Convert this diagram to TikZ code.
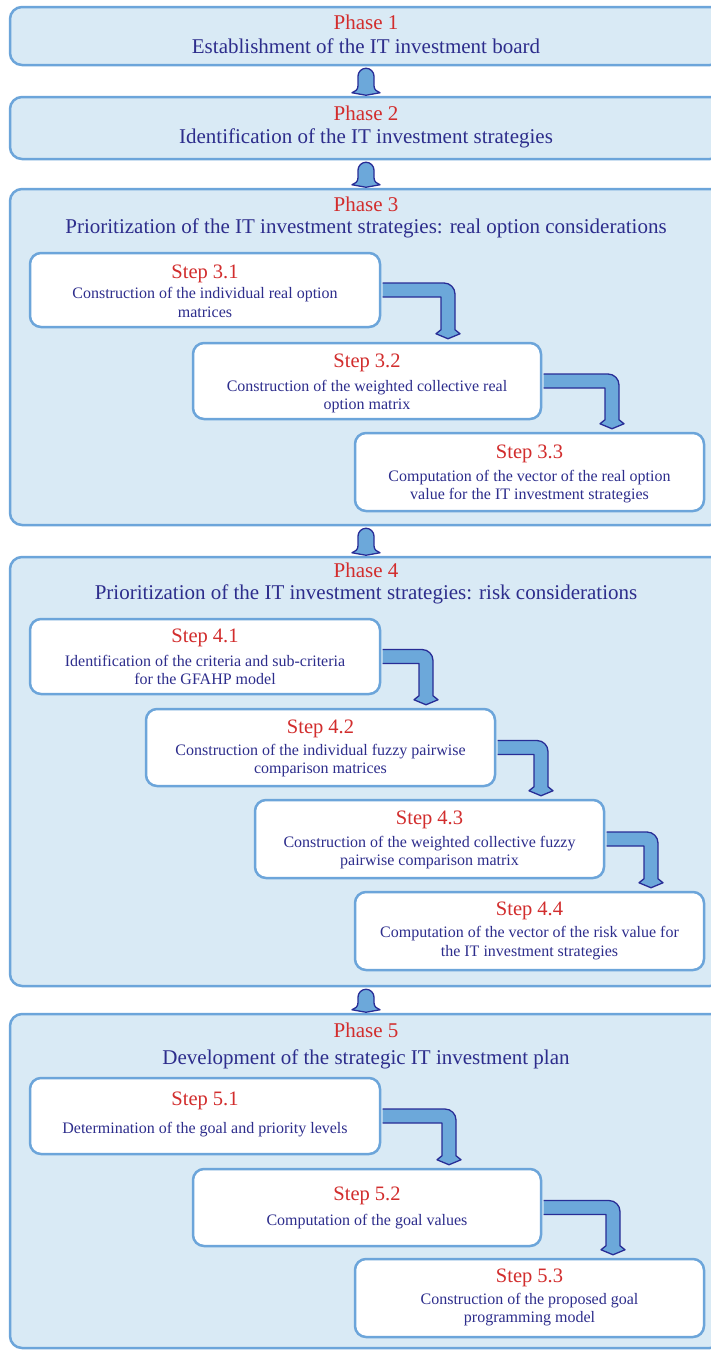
\documentclass[tikz,border=0pt]{standalone}
\usepackage{fontspec}
\setmainfont{Liberation Serif}
\usetikzlibrary{calc}
\definecolor{phasebg}{RGB}{217,234,245}
\definecolor{boxline}{RGB}{108,165,218}
\definecolor{redc}{RGB}{210,45,45}
\definecolor{bluec}{RGB}{45,45,140}
\definecolor{arrfill}{RGB}{108,168,218}
\definecolor{arrline}{RGB}{40,45,150}
\tikzset{
  phasebox/.style={draw=boxline, fill=phasebg, line width=2.5pt, rounded corners=12pt, inner sep=0pt},
  stepbox/.style={draw=boxline, fill=white, line width=2.5pt, rounded corners=11pt, inner sep=0pt},
  phtitle/.style={font=\fontsize{21}{24}\selectfont, text=redc, inner sep=0pt, anchor=base},
  phtext/.style={font=\fontsize{21}{24}\selectfont, text=bluec, inner sep=0pt, anchor=base},
  sttitle/.style={font=\fontsize{20.5}{24}\selectfont, text=redc, inner sep=0pt, anchor=base},
  stbody/.style={font=\fontsize{16}{18}\selectfont, text=bluec, inner sep=0pt, anchor=base},
  arrowsty/.style={fill=arrfill, draw=arrline, line width=1.3pt, line join=round}
}
\newcommand\boxat[6]{% style, name, x1, y1, x2, y2
  \node[#1, minimum width={(#5-#3)*1pt}, minimum height={(#6-#4)*1pt}] (#2) at ({(#3+#5)/2},{-(#4+#6)/2}) {};}
\newcommand\bentarrow[3]{% from, to, bend x
  \filldraw[arrowsty] let \p1=(#1.east), \p2=(#2.north) in
   (\x1+1.3pt,\y1+7pt) -- (#3pt-4pt,\y1+7pt) arc[start angle=90,end angle=0,radius=11pt]
   -- (#3pt+7pt,\y2+12pt) -- (#3pt+12pt,\y2+8pt) -- (#3pt,\y2+3pt) -- (#3pt-12pt,\y2+8pt)
   -- (#3pt-7pt,\y2+12pt) -- (#3pt-7pt,\y1-7pt) -- (\x1+1.3pt,\y1-7pt);}
\newcommand\phasearrow[2]{% from, to
  \filldraw[arrowsty] let \p1=(#1.south), \p2=(#2.north) in
   (\x1-8pt,\y1-10pt) arc[start angle=180,end angle=0,radius=8pt]
   -- (\x1+8pt,\y2+10pt) .. controls (\x1+8pt,\y2+6pt) and (\x1+11pt,\y2+4pt) .. (\x1+14pt,\y2+3pt)
   -- (\x1,\y2+0.5pt) -- (\x1-14pt,\y2+3pt) .. controls (\x1-11pt,\y2+4pt) and (\x1-8pt,\y2+6pt) .. (\x1-8pt,\y2+10pt)
   -- cycle;}
\begin{document}
\begin{tikzpicture}[x=1pt,y=1pt]
\useasboundingbox (0,0) rectangle (711,-1350);
\clip (0,0) rectangle (711,-1350);
\fill[white] (0,0) rectangle (711,-1350);
% phase boxes
\boxat{phasebox}{p1}{10}{7}{722}{65}
\boxat{phasebox}{p2}{10}{97}{722}{159}
\boxat{phasebox}{p3}{10}{189}{722}{525}
\boxat{phasebox}{p4}{10}{557}{722}{986}
\boxat{phasebox}{p5}{10}{1014}{722}{1348}
% phase texts
\node[phtitle] (p1a) at (366,-29) {Phase 1};
\node[phtext] (p1b) at (366,-53) {Establishment of the IT investment board};
\node[phtitle] (p2a) at (366,-120) {Phase 2};
\node[phtext] (p2b) at (366,-143) {Identification of the IT investment strategies};
\node[phtitle] (p3a) at (366,-211) {Phase 3};
\node[phtext] (p3b) at (366,-233) {Prioritization of the IT investment strategies: real option considerations};
\node[phtitle] (p4a) at (366,-577) {Phase 4};
\node[phtext] (p4b) at (366,-599) {Prioritization of the IT investment strategies: risk considerations};
\node[phtitle] (p5a) at (366,-1037) {Phase 5};
\node[phtext] (p5b) at (366,-1064) {Development of the strategic IT investment plan};
% step boxes
\boxat{stepbox}{s31}{30}{253}{380}{327}
\boxat{stepbox}{s32}{193}{343}{541}{419}
\boxat{stepbox}{s33}{355}{433}{704}{511}
\boxat{stepbox}{s41}{30}{619}{380}{694}
\boxat{stepbox}{s42}{146}{709}{495}{786}
\boxat{stepbox}{s43}{255}{800}{604}{878}
\boxat{stepbox}{s44}{355}{892}{704}{970}
\boxat{stepbox}{s51}{30}{1078}{380}{1154}
\boxat{stepbox}{s52}{193}{1169}{541}{1246}
\boxat{stepbox}{s53}{355}{1259}{704}{1337}
% step texts
\node[sttitle] (t31) at (205,-278) {Step 3.1};
\node[stbody] (b31a) at (205,-298) {Construction of the individual real option};
\node[stbody] (b31b) at (205,-317) {matrices};
\node[sttitle] (t32) at (367,-367) {Step 3.2};
\node[stbody] (b32a) at (367,-391) {Construction of the weighted collective real};
\node[stbody] (b32b) at (367,-409) {option matrix};
\node[sttitle] (t33) at (529.5,-458) {Step 3.3};
\node[stbody] (b33a) at (529.5,-481) {Computation of the vector of the real option};
\node[stbody] (b33b) at (529.5,-499) {value for the IT investment strategies};
\node[sttitle] (t41) at (205,-642) {Step 4.1};
\node[stbody] (b41a) at (205,-666) {Identification of the criteria and sub-criteria};
\node[stbody] (b41b) at (205,-684) {for the GFAHP model};
\node[sttitle] (t42) at (320.5,-733) {Step 4.2};
\node[stbody] (b42a) at (320.5,-755) {Construction of the individual fuzzy pairwise};
\node[stbody] (b42b) at (320.5,-773) {comparison matrices};
\node[sttitle] (t43) at (429.5,-824) {Step 4.3};
\node[stbody] (b43a) at (429.5,-847) {Construction of the weighted collective fuzzy};
\node[stbody] (b43b) at (429.5,-865) {pairwise comparison matrix};
\node[sttitle] (t44) at (529.5,-915) {Step 4.4};
\node[stbody] (b44a) at (529.5,-937) {Computation of the vector of the risk value for};
\node[stbody] (b44b) at (529.5,-956) {the IT investment strategies};
\node[sttitle] (t51) at (205,-1105) {Step 5.1};
\node[stbody] (b51a) at (205,-1133) {Determination of the goal and priority levels};
\node[sttitle] (t52) at (367,-1200) {Step 5.2};
\node[stbody] (b52a) at (367,-1225) {Computation of the goal values};
\node[sttitle] (t53) at (529.5,-1282) {Step 5.3};
\node[stbody] (b53a) at (529.5,-1304) {Construction of the proposed goal};
\node[stbody] (b53b) at (529.5,-1322) {programming model};
% arrows
\phasearrow{p1}{p2}
\phasearrow{p2}{p3}
\phasearrow{p3}{p4}
\phasearrow{p4}{p5}
\bentarrow{s31}{s32}{448}
\bentarrow{s32}{s33}{612}
\bentarrow{s41}{s42}{426}
\bentarrow{s42}{s43}{541}
\bentarrow{s43}{s44}{651}
\bentarrow{s51}{s52}{449}
\bentarrow{s52}{s53}{613}
\end{tikzpicture}
\end{document}
